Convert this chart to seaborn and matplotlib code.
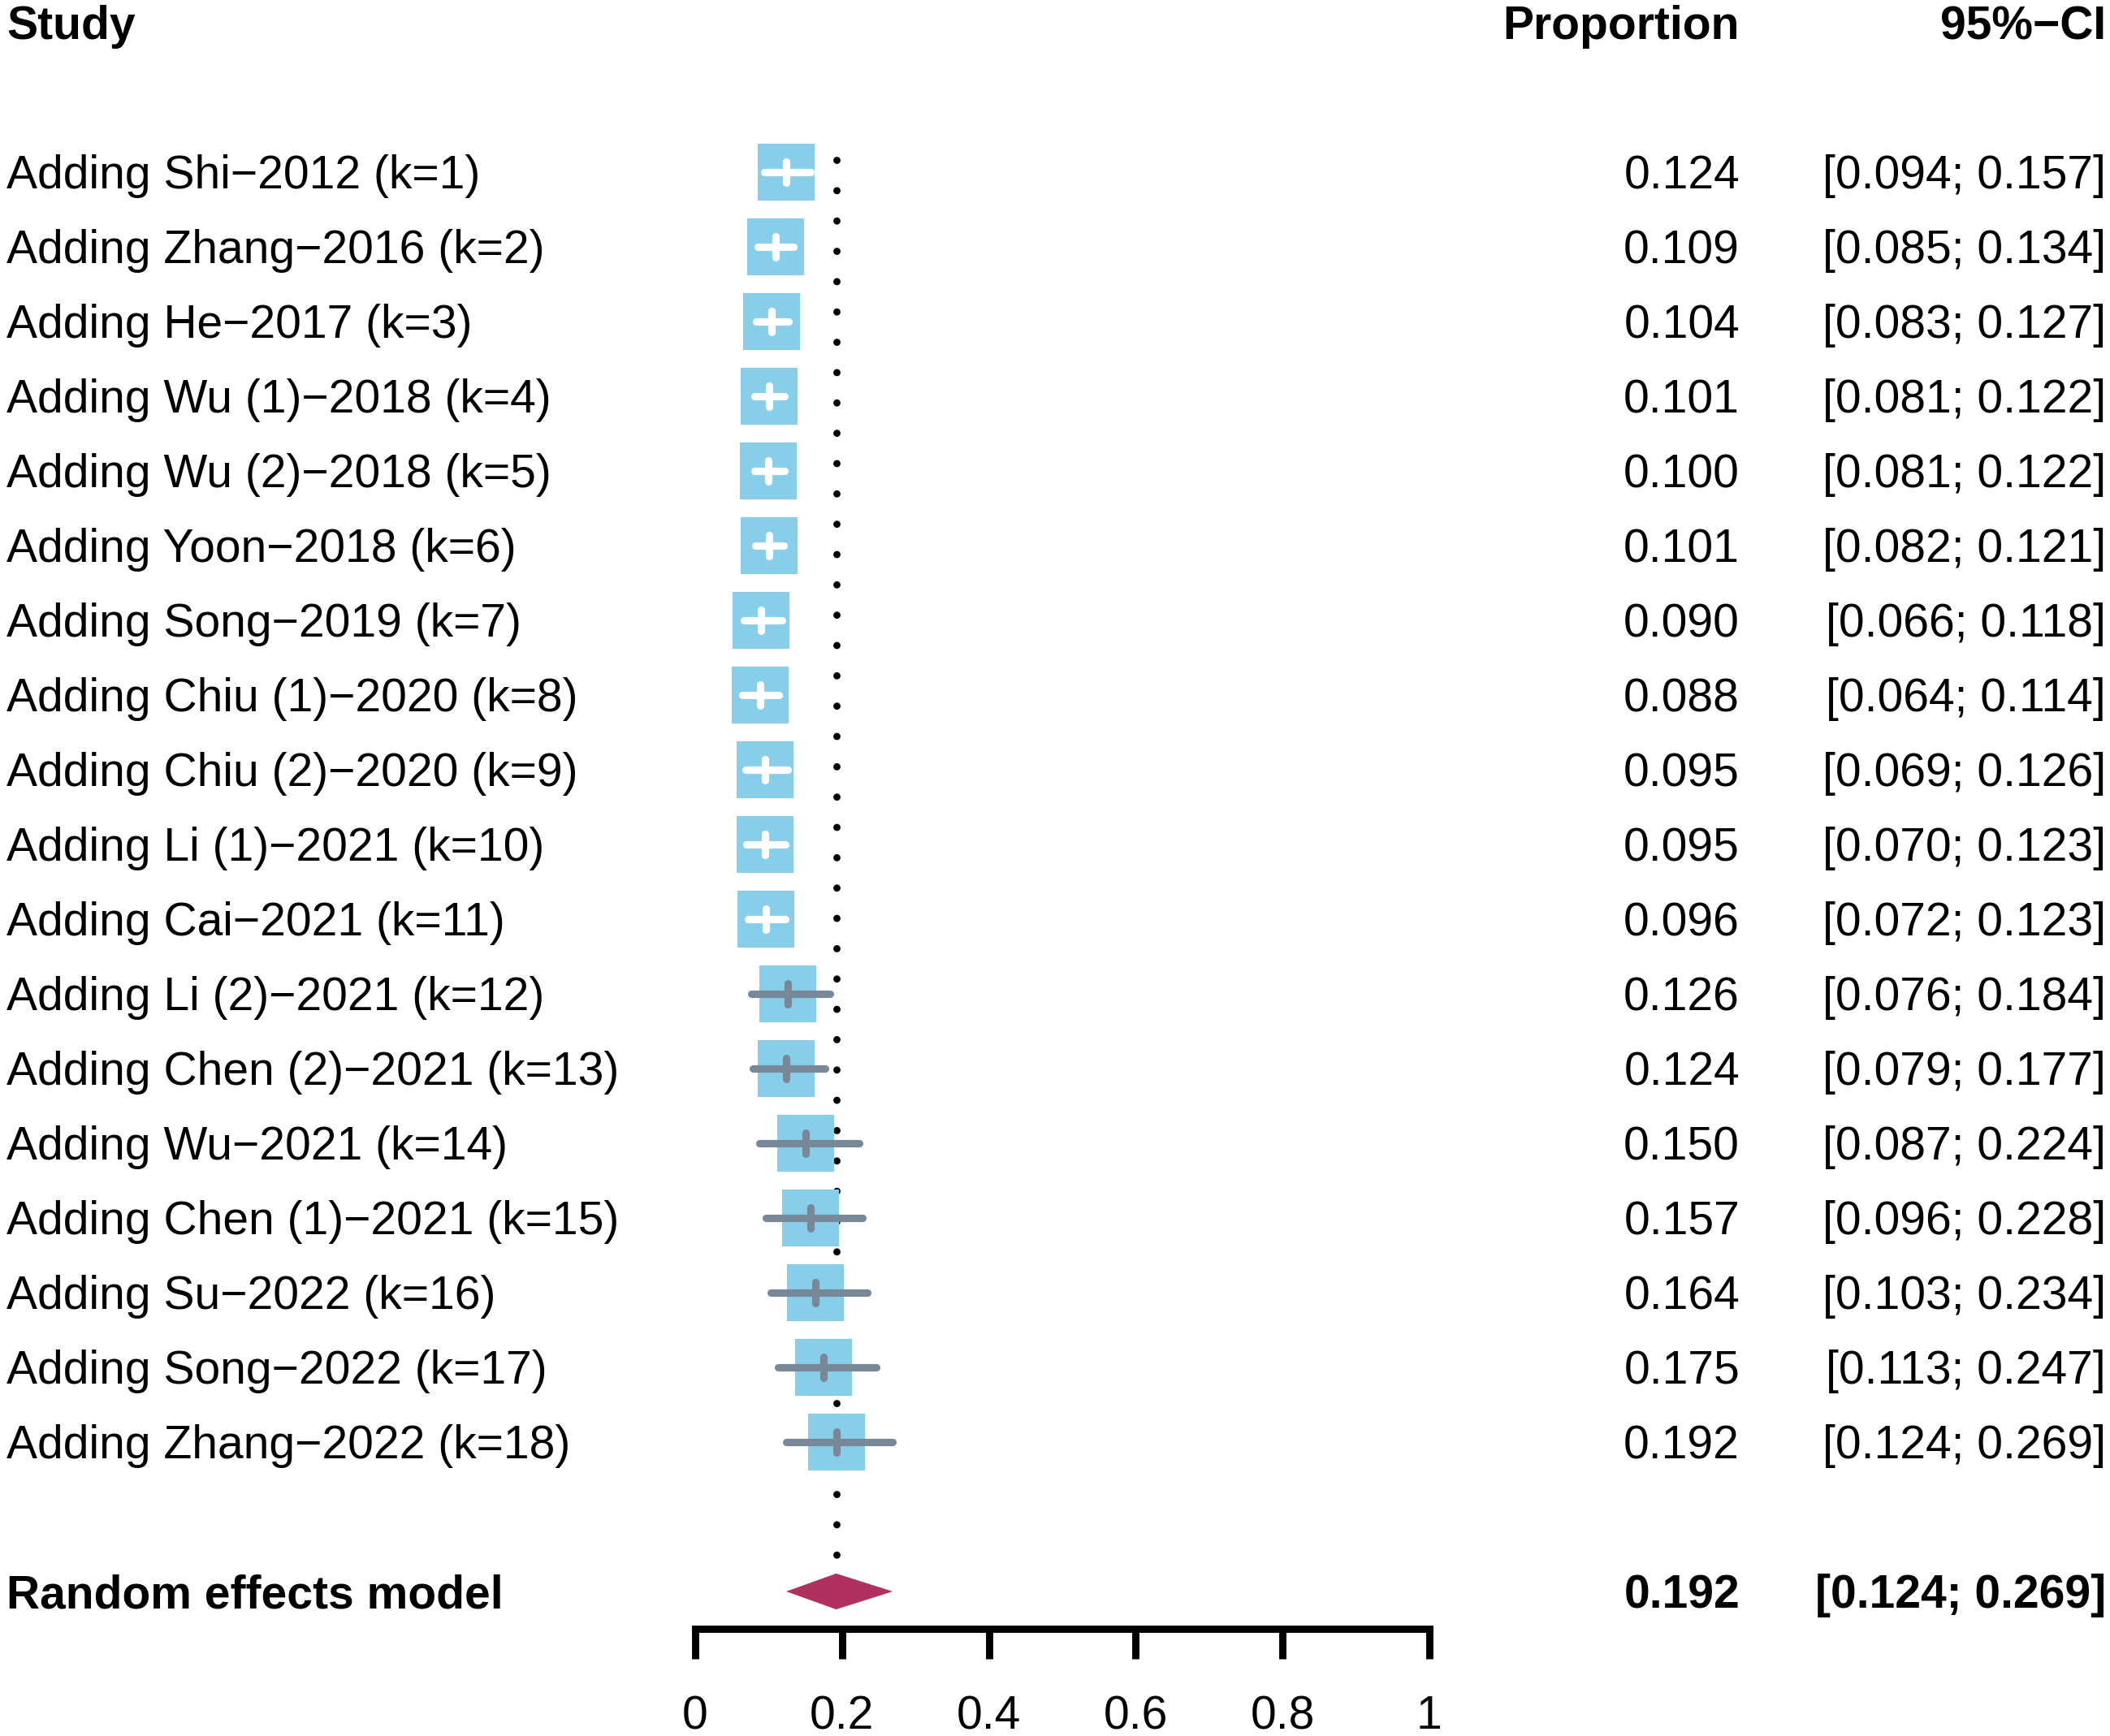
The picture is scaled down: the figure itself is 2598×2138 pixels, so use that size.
import numpy as np
import pandas as pd
import matplotlib
matplotlib.use("Agg")
import matplotlib.pyplot as plt
import seaborn as sns

studies = ["Shi−2012", "Zhang−2016", "He−2017", "Wu (1)−2018", "Wu (2)−2018",
           "Yoon−2018", "Song−2019", "Chiu (1)−2020", "Chiu (2)−2020", "Li (1)−2021",
           "Cai−2021", "Li (2)−2021", "Chen (2)−2021", "Wu−2021", "Chen (1)−2021",
           "Su−2022", "Song−2022", "Zhang−2022"]
prop = [0.124, 0.109, 0.104, 0.101, 0.100, 0.101, 0.090, 0.088, 0.095,
        0.095, 0.096, 0.126, 0.124, 0.150, 0.157, 0.164, 0.175, 0.192]
lower = [0.094, 0.085, 0.083, 0.081, 0.081, 0.082, 0.066, 0.064, 0.069,
         0.070, 0.072, 0.076, 0.079, 0.087, 0.096, 0.103, 0.113, 0.124]
upper = [0.157, 0.134, 0.127, 0.122, 0.122, 0.121, 0.118, 0.114, 0.126,
         0.123, 0.123, 0.184, 0.177, 0.224, 0.228, 0.234, 0.247, 0.269]
re_est, re_lower, re_upper = 0.192, 0.124, 0.269
xticks = [0, 0.2, 0.4, 0.6, 0.8, 1]
xtick_labels = ["0", "0.2", "0.4", "0.6", "0.8", "1"]

df = pd.DataFrame({
    "label": [f"Adding {s} (k={i + 1})" for i, s in enumerate(studies)],
    "prop": prop, "lower": lower, "upper": upper,
})
df["row"] = np.arange(1, len(df) + 1)
re_row = len(df) + 2

sns.set_style("white")
plt.rcParams["font.family"] = ["Liberation Sans", "DejaVu Sans"]
plt.rcParams["text.color"] = "black"
plt.rcParams["axes.edgecolor"] = "black"
plt.rcParams["xtick.color"] = "black"
plt.rcParams["xtick.labelcolor"] = "black"

fig = plt.figure(figsize=(12.99, 10.69), dpi=200)
ax = fig.add_axes([0, 0, 1, 1])
ax.set_xlim(-0.9469, 1.9270)
ax.set_ylim(21.935, -1.304)

fs = 20.5
sq_half = 0.0390          # half side of square in data units (x)
sq_side_pt = 25.2

# reference (dotted) line at the pooled estimate
ax.plot([re_est, re_est], [0.84, 19.6], color="black", lw=3.2,
        linestyle=(0, (0.001, 4.2)), dash_capstyle="round", zorder=1)

# squares
sns.scatterplot(data=df, x="prop", y="row", marker="s", s=sq_side_pt ** 2,
                color="#87CEEB", linewidth=0, ax=ax, zorder=2, legend=False)

# confidence intervals: white when inside the square, grey otherwise
inside = (df["lower"] >= df["prop"] - sq_half) & (df["upper"] <= df["prop"] + sq_half)
ci_col = np.where(inside, "white", "#778899")
for r, c in zip(df.itertuples(), ci_col):
    ax.plot([r.lower, r.upper], [r.row, r.row], color=c, lw=3.3,
            solid_capstyle="round", zorder=3)
    ax.plot([r.prop, r.prop], [r.row - 0.14, r.row + 0.14], color=c, lw=3.3,
            solid_capstyle="round", zorder=3)

# random effects diamond
h = 0.24
ax.fill([re_lower, re_est, re_upper, re_est],
        [re_row, re_row - h, re_row, re_row + h],
        color="#B03060", lw=0, zorder=3)

# text columns
tr = ax.get_yaxis_transform()
off = 0.223
x_study, x_prop, x_ci = 0.0031, 0.8245, 0.9981
ax.text(x_study, -1 + off, "Study", transform=tr, fontsize=fs, fontweight="bold",
        ha="left", va="baseline")
ax.text(x_prop, -1 + off, "Proportion", transform=tr, fontsize=fs, fontweight="bold",
        ha="right", va="baseline")
ax.text(x_ci, -1 + off, "95%−CI", transform=tr, fontsize=fs, fontweight="bold",
        ha="right", va="baseline")
for r in df.itertuples():
    ax.text(x_study, r.row + off, r.label, transform=tr, fontsize=fs,
            ha="left", va="baseline")
    ax.text(x_prop, r.row + off, f"{r.prop:.3f}", transform=tr, fontsize=fs,
            ha="right", va="baseline")
    ax.text(x_ci, r.row + off, f"[{r.lower:.3f}; {r.upper:.3f}]", transform=tr,
            fontsize=fs, ha="right", va="baseline")
ax.text(x_study, re_row + off, "Random effects model", transform=tr, fontsize=fs,
        fontweight="bold", ha="left", va="baseline")
ax.text(x_prop, re_row + off, f"{re_est:.3f}", transform=tr, fontsize=fs,
        fontweight="bold", ha="right", va="baseline")
ax.text(x_ci, re_row + off, f"[{re_lower:.3f}; {re_upper:.3f}]", transform=tr,
        fontsize=fs, fontweight="bold", ha="right", va="baseline")

# x axis
for s in ["left", "right", "top"]:
    ax.spines[s].set_visible(False)
ax.spines["bottom"].set_position(("data", 20.5))
ax.spines["bottom"].set_bounds(0, 1)
ax.spines["bottom"].set_linewidth(3.2)
ax.spines["bottom"].set_edgecolor("black")
ax.spines["bottom"].set_capstyle("projecting")
ax.set_yticks([])
ax.set_xticks(xticks)
ax.set_xticklabels(xtick_labels)
ax.tick_params(axis="x", direction="out", length=13.3, width=3.2, pad=16,
               labelsize=fs, bottom=True, colors="black")
for t in ax.xaxis.get_major_ticks():
    t.tick1line.set_solid_capstyle("round")
ax.set_xlabel("")
ax.set_ylabel("")

fig.savefig("out.png", dpi=200, facecolor="white")
